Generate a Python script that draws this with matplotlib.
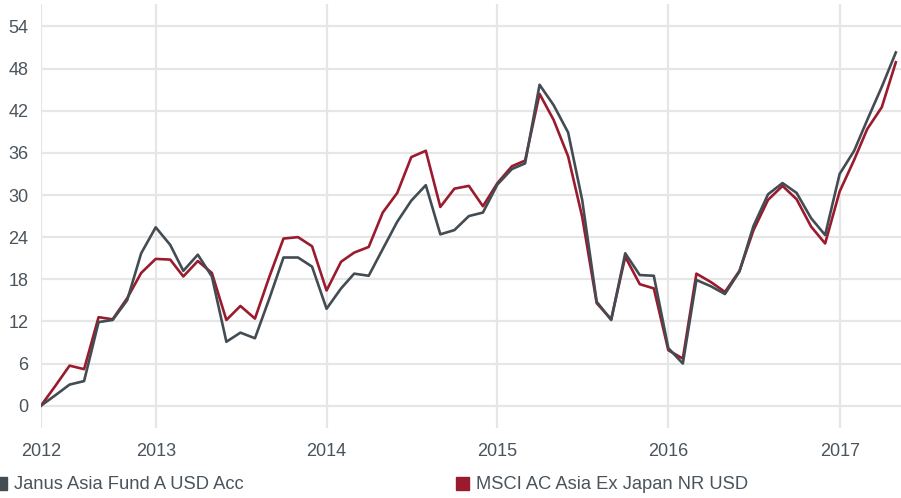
import matplotlib
matplotlib.use("Agg")
import matplotlib.pyplot as plt
from matplotlib.patches import Rectangle
import pandas as pd

# Monthly cumulative growth (%), May 2012 - May 2017
months = pd.date_range("2012-05-01", periods=61, freq="MS")

fund = [
    0.0, 1.5, 3.0, 3.5, 11.9, 12.2, 15.0, 21.7,
    25.4, 22.9, 19.2, 21.5, 18.4, 9.1, 10.4, 9.6, 15.3, 21.1, 21.1, 19.8,
    13.8, 16.7, 18.8, 18.5, 22.3, 26.2, 29.2, 31.4, 24.4, 25.0, 27.0, 27.5,
    31.5, 33.7, 34.5, 45.7, 42.8, 38.9, 29.3, 14.8, 12.2, 21.7, 18.6, 18.5,
    8.2, 6.0, 17.9, 17.0, 15.9, 19.1, 25.6, 30.1, 31.7, 30.3, 26.7, 24.3,
    33.0, 36.3, 40.7, 45.4, 50.3,
]
index = [
    0.0, 2.85, 5.7, 5.2, 12.6, 12.3, 15.3, 18.9,
    20.9, 20.8, 18.4, 20.6, 18.9, 12.2, 14.2, 12.4, 18.4, 23.8, 24.0, 22.7,
    16.4, 20.5, 21.8, 22.6, 27.5, 30.3, 35.4, 36.3, 28.3, 30.9, 31.3, 28.4,
    31.7, 34.1, 34.9, 44.4, 40.7, 35.5, 26.9, 14.6, 12.3, 21.2, 17.3, 16.7,
    7.9, 6.7, 18.8, 17.6, 16.2, 19.2, 25.0, 29.3, 31.3, 29.4, 25.5, 23.1,
    30.5, 35.0, 39.4, 42.5, 48.9,
]

fund_name = "Janus Asia Fund A USD Acc"
index_name = "MSCI AC Asia Ex Japan NR USD"
year_ticks = pd.to_datetime(["2012-05-01", "2013-01-01", "2014-01-01",
                             "2015-01-01", "2016-01-01", "2017-01-01"])
year_labels = ["2012", "2013", "2014", "2015", "2016", "2017"]
y_ticks = [0, 6, 12, 18, 24, 30, 36, 42, 48, 54]

gray = "#434c53"
red = "#9a1b2d"
text_color = "#4a545c"
grid_color = "#e6e6e6"

plt.rcParams["font.family"] = ["Liberation Sans", "DejaVu Sans"]

fig = plt.figure(figsize=(9.01, 4.98), dpi=100)
ax = fig.add_axes([41 / 901, 1 - 428 / 498, 1 - 41 / 901, (428 - 4) / 498])

ax.plot(months, index, color=red, lw=1.9, zorder=3)
ax.plot(months, fund, color=gray, lw=1.9, zorder=4)

ax.set_xlim(months[0], months[0] + pd.Timedelta(days=60.35 * 30.44))
ax.set_ylim(-3.18, 57.2)
ax.set_xticks(year_ticks)
ax.set_xticklabels(year_labels)
ax.set_yticks(y_ticks)

ax.grid(True, color=grid_color, lw=1.6)
ax.set_axisbelow(True)
for s in ax.spines.values():
    s.set_visible(False)
ax.tick_params(axis="both", length=0, labelsize=13, colors=text_color)
ax.tick_params(axis="x", pad=11)
ax.tick_params(axis="y", pad=9)

# legend along the bottom
fig.patches.append(Rectangle((-6 / 901, 1 - 490 / 498), 12.6 / 901, 12.8 / 498,
                             transform=fig.transFigure, color=gray))
fig.patches.append(Rectangle((456 / 901, 1 - 490 / 498), 12.6 / 901, 12.8 / 498,
                             transform=fig.transFigure, color=red))
fig.text(14 / 901, 1 - 484 / 498, fund_name, fontsize=13.2, color=text_color, va="center")
fig.text(476 / 901, 1 - 484 / 498, index_name, fontsize=13.2, color=text_color, va="center")

fig.savefig("out.png", dpi=100)
